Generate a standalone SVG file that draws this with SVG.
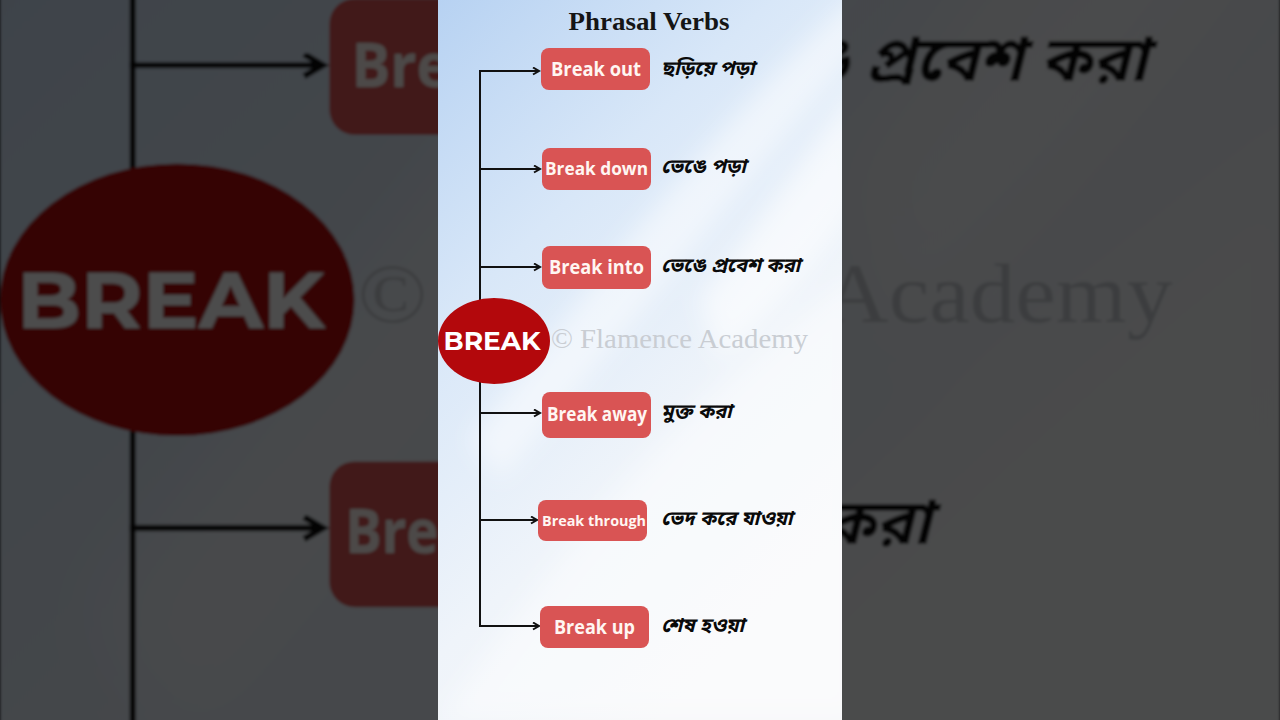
<svg xmlns="http://www.w3.org/2000/svg" xmlns:xlink="http://www.w3.org/1999/xlink" width="1280" height="720" viewBox="0 0 1280 720">
  <style>
    .box { fill: #d95454; }
    .blabel { font-family: "Open Sans", "Noto Sans", sans-serif; font-weight: 700; fill: #fff6f2; text-anchor: middle; }
    .bn { font-family: "Noto Sans Bengali", "Noto Serif Bengali", "Lohit Bengali", "Noto Sans", sans-serif; font-weight: 700; font-style: italic; font-size: 20px; fill: #0a0a0a; }
    .conn { stroke: #111; stroke-width: 2; fill: none; }
    .title { font-family: "Liberation Serif", serif; font-weight: 700; font-size: 25px; fill: #151515; text-anchor: middle; }
    .wm { font-family: "Liberation Serif", serif; font-size: 27px; fill: #c9cdd3; }
  </style>
  <defs>
    <linearGradient id="bgGrad" x1="0" y1="0" x2="0.55" y2="1">
      <stop offset="0" stop-color="#b7d2f2"/>
      <stop offset="0.35" stop-color="#d8e7f8"/>
      <stop offset="0.7" stop-color="#eff4fa"/>
      <stop offset="1" stop-color="#f6f7f9"/>
    </linearGradient>
    <clipPath id="panelClip"><rect x="438" y="0" width="404" height="720"/></clipPath>
    <filter id="soft" x="-5%" y="-5%" width="110%" height="110%"><feGaussianBlur stdDeviation="1.5"/></filter>
    <filter id="streakBlur" x="-50%" y="-50%" width="200%" height="200%"><feGaussianBlur stdDeviation="12"/></filter>
    <marker id="arrow" markerWidth="10" markerHeight="10" refX="7" refY="4" orient="auto" markerUnits="userSpaceOnUse">
      <path d="M1,0.5 L7,4 L1,7.5" fill="none" stroke="#111" stroke-width="2"/>
    </marker>
  </defs>

  <!-- blurred, darkened backdrop -->
  <rect x="0" y="0" width="1280" height="720" fill="#000"/>
  <g filter="url(#soft)">
    <use xlink:href="#frame" href="#frame" transform="translate(640 360) scale(3.17) translate(-640 -360)"/>
  </g>
  <rect x="0" y="0" width="1280" height="720" fill="#000" opacity="0.7"/>

  <g id="frame" clip-path="url(#panelClip)">
    <rect x="438" y="0" width="404" height="720" fill="url(#bgGrad)"/>
    <g filter="url(#streakBlur)">
      <path d="M470,440 C580,300 700,140 850,0 L900,0 C760,160 630,330 500,480 Z" fill="#ffffff" opacity="0.5"/>
      <path d="M700,300 C760,220 820,140 860,80 L860,200 C820,260 770,320 720,360 Z" fill="#ffffff" opacity="0.6"/>
      <path d="M440,720 C540,580 650,430 860,270 L860,720 Z" fill="#ffffff" opacity="0.45"/>
    </g>

    <text class="title" x="649" y="30" textLength="161" lengthAdjust="spacingAndGlyphs">Phrasal Verbs</text>

    <text class="wm" x="551" y="348" textLength="257" lengthAdjust="spacingAndGlyphs">© Flamence Academy</text>

    <g id="connectors">
      <line class="conn" x1="480" y1="70" x2="480" y2="627"/>
      <line class="conn" x1="479" y1="71" x2="539" y2="71" marker-end="url(#arrow)"/>
      <line class="conn" x1="479" y1="169" x2="540" y2="169" marker-end="url(#arrow)"/>
      <line class="conn" x1="479" y1="267" x2="540" y2="267" marker-end="url(#arrow)"/>
      <line class="conn" x1="479" y1="413" x2="540" y2="413" marker-end="url(#arrow)"/>
      <line class="conn" x1="479" y1="520" x2="537" y2="520" marker-end="url(#arrow)"/>
      <line class="conn" x1="479" y1="626" x2="539" y2="626" marker-end="url(#arrow)"/>
    </g>

    <g id="node-break">
      <ellipse cx="494" cy="341" rx="56" ry="43" fill="#b3080c"/>
      <text x="492" y="350" font-family="Montserrat, 'Liberation Sans', Arial, sans-serif" font-weight="700" font-size="25" fill="#ffffff" text-anchor="middle" textLength="97" lengthAdjust="spacingAndGlyphs">BREAK</text>
    </g>

    <g id="node-out">
      <rect class="box" x="541" y="48" width="109" height="42" rx="8"/>
      <text class="blabel" x="596" y="76" font-size="19" textLength="90" lengthAdjust="spacingAndGlyphs">Break out</text>
      <text class="bn" x="661" y="75">ছড়িয়ে পড়া</text>
    </g>

    <g id="node-down">
      <rect class="box" x="542" y="148" width="109" height="42" rx="8"/>
      <text class="blabel" x="596.5" y="175" font-size="18" textLength="103" lengthAdjust="spacingAndGlyphs">Break down</text>
      <text class="bn" x="661" y="173">ভেঙে পড়া</text>
    </g>

    <g id="node-into">
      <rect class="box" x="542" y="246" width="109" height="43" rx="8"/>
      <text class="blabel" x="596.5" y="274" font-size="19" textLength="95" lengthAdjust="spacingAndGlyphs">Break into</text>
      <text class="bn" x="661" y="272">ভেঙে প্রবেশ করা</text>
    </g>

    <g id="node-away">
      <rect class="box" x="542" y="392" width="109" height="46" rx="8"/>
      <text class="blabel" x="597" y="421" font-size="19" textLength="100" lengthAdjust="spacingAndGlyphs">Break away</text>
      <text class="bn" x="661" y="418">মুক্ত করা</text>
    </g>

    <g id="node-through">
      <rect class="box" x="538" y="500" width="109" height="41" rx="8"/>
      <text class="blabel" x="594" y="526" font-size="15" textLength="104" lengthAdjust="spacingAndGlyphs">Break through</text>
      <text class="bn" x="661" y="525">ভেদ করে যাওয়া</text>
    </g>

    <g id="node-up">
      <rect class="box" x="540" y="606" width="109" height="42" rx="8"/>
      <text class="blabel" x="594.5" y="634" font-size="20" textLength="81" lengthAdjust="spacingAndGlyphs">Break up</text>
      <text class="bn" x="661" y="632">শেষ হওয়া</text>
    </g>
  </g>
</svg>
